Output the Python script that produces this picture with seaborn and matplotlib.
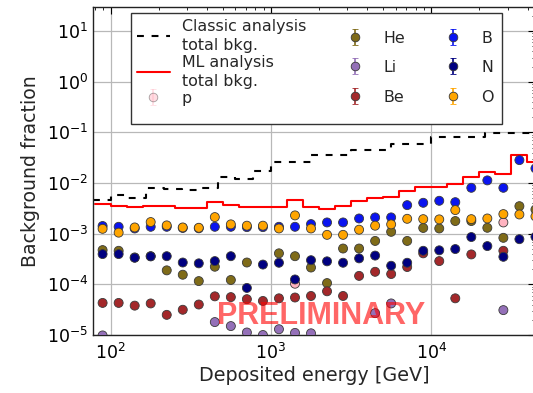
import numpy as np
import pandas as pd
import matplotlib
matplotlib.use("Agg")
import matplotlib.pyplot as plt
import seaborn as sns
from matplotlib.lines import Line2D
from matplotlib.patches import Rectangle

nan = np.nan

# ---- data -------------------------------------------------------------
# bin centres of the deposited-energy bins [GeV]
energy = [89.1, 112.2, 141.3, 177.8, 223.9, 281.8, 354.8, 446.7, 562.3, 707.9,
          891.3, 1122, 1413, 1778, 2239, 2818, 3548, 4467, 5623, 7079,
          8913, 11220, 14125, 17783, 22387, 28184, 35481, 44668]

# ML analysis total background (one value per bin)
ml_total = [3.8e-3, 3.56e-3, 3.3e-3, 3.6e-3, 3.45e-3, 3.2e-3, 3.2e-3, 4.2e-3, 3.7e-3, 3.3e-3,
            3.3e-3, 3.4e-3, 4.55e-3, 3.4e-3, 3.1e-3, 3.6e-3, 4.5e-3, 5.0e-3, 5.2e-3, 6.95e-3,
            8.45e-3, 8.45e-3, 9.8e-3, 1.33e-2, 1.62e-2, 1.5e-2, 3.6e-2, 2.6e-2]

# Classic analysis total background (own binning)
classic_edges = [77.4, 100, 129.2, 166.8, 215.4, 278.3, 359.4, 464.2, 599.5, 774.3,
                 1000, 1778, 3162, 5623, 10000, 21544, 46416]
classic_total = [4.7e-3, 5.8e-3, 5.0e-3, 7.85e-3, 7.5e-3, 7.4e-3, 8.0e-3, 1.33e-2, 1.22e-2,
                 1.75e-2, 2.55e-2, 3.56e-2, 4.6e-2, 5.8e-2, 8.2e-2, 0.098]

# per-species background fractions
frac_p = [nan, nan, nan, nan, nan, nan, nan, nan, nan, nan,
          nan, nan, 1.03e-4, nan, nan, nan, nan, nan, nan, nan,
          nan, nan, nan, nan, nan, 1.67e-3, nan, nan]
frac_He = [4.75e-4, 4.6e-4, 3.4e-4, 3.6e-4, 1.89e-4, 1.55e-4, 1.16e-4, 2.23e-4, 1.22e-4, 2.7e-4,
           nan, 4.1e-4, 3.6e-4, 2.15e-4, 1.06e-4, 5.1e-4, 5.1e-4, 7.2e-4, 1.09e-3, 7.2e-4,
           1.3e-3, 1.27e-3, 1.78e-3, 1.78e-3, 1.31e-3, 8.3e-4, 3.5e-3, 3.0e-3]
frac_Li = [9.8e-6, nan, nan, nan, nan, nan, nan, 1.8e-5, 1.5e-5, 1.12e-5,
           1.0e-5, 1.3e-5, 1.1e-5, 1.08e-5, nan, nan, nan, 2.7e-5, 4.2e-5, nan,
           nan, nan, nan, nan, nan, 3.1e-5, nan, nan]
frac_Be = [4.3e-5, 4.3e-5, 3.8e-5, 4.2e-5, 2.5e-5, 3.15e-5, 4.0e-5, 5.8e-5, 5.6e-5, 5.1e-5,
           4.7e-5, 5.3e-5, 5.5e-5, 5.9e-5, 7.3e-5, 5.9e-5, 1.47e-4, 1.77e-4, 1.6e-4, 2.2e-4,
           4.1e-4, 2.88e-4, 5.3e-5, 3.9e-4, nan, 4.6e-4, nan, nan]
frac_B = [1.42e-3, 1.37e-3, 1.27e-3, 1.37e-3, 1.37e-3, 1.3e-3, 1.28e-3, 1.37e-3, 1.37e-3, 1.35e-3,
          1.35e-3, 1.37e-3, 1.37e-3, 1.55e-3, 1.67e-3, 1.67e-3, 2.0e-3, 2.1e-3, 2.1e-3, 3.67e-3,
          4.08e-3, 4.47e-3, 4.2e-3, 8.07e-3, 1.13e-2, 8.07e-3, 2.84e-2, 1.95e-2]
frac_N = [3.96e-4, 3.96e-4, 3.35e-4, 3.57e-4, 3.6e-4, 2.7e-4, 2.6e-4, 2.88e-4, 3.6e-4, 8.5e-5,
          2.46e-4, 2.67e-4, 1.25e-4, 3.0e-4, 2.85e-4, 2.67e-4, 3.26e-4, 3.7e-4, 2.33e-4, 2.67e-4,
          4.6e-4, 4.7e-4, 4.98e-4, 8.6e-4, 5.7e-4, 3.5e-4, 7.8e-4, 8.7e-4]
frac_O = [1.25e-3, 1.05e-3, 1.33e-3, 1.7e-3, 1.46e-3, 1.33e-3, 1.31e-3, 2.13e-3, 1.53e-3, 1.44e-3,
          1.44e-3, 1.27e-3, 2.3e-3, 1.27e-3, 9.5e-4, 9.5e-4, 1.2e-3, 1.44e-3, 1.53e-3, 1.97e-3,
          1.94e-3, 1.92e-3, 2.93e-3, 1.94e-3, 2.0e-3, 2.44e-3, 2.4e-3, 2.2e-3]

species = ["p", "He", "Li", "Be", "B", "N", "O"]
colors = {"p": "#ffb3c0", "He": "#7f6b18", "Li": "#9470b8", "Be": "#a3282a",
          "B": "#0a14f0", "N": "#000080", "O": "#ffa500"}
values = {"p": frac_p, "He": frac_He, "Li": frac_Li, "Be": frac_Be,
          "B": frac_B, "N": frac_N, "O": frac_O}

# ---- style ------------------------------------------------------------
sns.set_style("white")
plt.rcParams["font.family"] = ["DejaVu Sans"]
plt.rcParams["mathtext.fontset"] = "dejavusans"

AX_L, AX_B, AX_W, AX_H = 93, 58, 442, 328   # pixels
fig = plt.figure(figsize=(5.33, 3.93), dpi=100)
ax = fig.add_axes([AX_L / 533, AX_B / 393, AX_W / 533, AX_H / 393])
ax.set_xscale("log")
ax.set_yscale("log")


def fx(px):  # pixel column -> axes fraction
    return (px - AX_L) / AX_W


def fy(py):  # pixel row (from top) -> axes fraction
    return (393 - AX_B - py) / AX_H


# ---- step lines -------------------------------------------------------
c = np.asarray(energy, float)
mid = np.sqrt(c[:-1] * c[1:])
ml_edges = np.concatenate([[c[0] ** 2 / mid[0]], mid, [c[-1] ** 2 / mid[-1]]])
ml_df = pd.DataFrame({"E": ml_edges, "v": list(ml_total) + [ml_total[-1]]})
cl_df = pd.DataFrame({"E": classic_edges, "v": list(classic_total) + [classic_total[-1]]})

sns.lineplot(data=cl_df, x="E", y="v", ax=ax, estimator=None, sort=False,
             drawstyle="steps-post", color="black", lw=1.5, zorder=2)
ax.lines[-1].set_dashes((3.3, 3.7))
sns.lineplot(data=ml_df, x="E", y="v", ax=ax, estimator=None, sort=False,
             drawstyle="steps-post", color="red", lw=1.5, zorder=2)

# ---- points -----------------------------------------------------------
rows = []
for sp in species:
    for e, v in zip(energy, values[sp]):
        if not np.isnan(v):
            rows.append((e, v, sp))
pts = pd.DataFrame(rows, columns=["E", "frac", "species"])
sns.scatterplot(data=pts, x="E", y="frac", hue="species", palette=colors,
                hue_order=species, s=42, edgecolor="#3a3a3a", linewidth=0.6,
                legend=False, ax=ax, zorder=3)

# ---- axes -------------------------------------------------------------
ax.set_xlim(10 ** 1.89, 10 ** (1.89 + AX_W / 160.3))
ax.set_ylim(1e-5, 30)
ax.grid(True, which="major", color="#b8b8b8", lw=0.9)
ax.tick_params(which="both", direction="in", top=True, right=True,
               labelsize=12.5, colors="black")
ax.tick_params(which="major", length=5, width=0.8)
ax.tick_params(which="minor", length=2.5, width=0.6)
ax.tick_params(axis="x", pad=6)
for s in ax.spines.values():
    s.set_color("#222222")
    s.set_linewidth(1.0)
ax.set_xlabel("Deposited energy [GeV]", fontsize=13.8, labelpad=2)
ax.set_ylabel("Background fraction", fontsize=13.6, labelpad=5)

ax.text(0.515, fy(323.5), "PRELIMINARY", transform=ax.transAxes, ha="center",
        va="baseline", fontsize=22, fontweight="bold", family="Liberation Sans",
        color="red", alpha=0.6, zorder=4)

# ---- legend (three columns, common frame) -----------------------------
frame = Rectangle((fx(130.7), fy(124)), fx(501.7) - fx(130.7), fy(13.3) - fy(124),
                  transform=ax.transAxes, facecolor="white", edgecolor="#333333",
                  lw=1.0, zorder=6)
ax.add_patch(frame)


def eb_handle(sp, alpha=1.0):
    return ax.errorbar([nan], [nan], yerr=[nan], fmt="o", color=colors[sp],
                       mec="#3a3a3a", mew=0.6, ms=6.2, capsize=2.5,
                       elinewidth=1.2, alpha=alpha)


common = dict(loc="upper left", fontsize=11.4, frameon=False, borderpad=0,
              borderaxespad=0, handlelength=2.1, handleheight=1.0,
              handletextpad=0.75)

h1 = [Line2D([], [], color="black", lw=1.5, dashes=(3.3, 3.7)),
      Line2D([], [], color="red", lw=1.5),
      eb_handle("p", alpha=0.45)]
l1 = ["Classic analysis\ntotal bkg.", "ML analysis\ntotal bkg.", "p"]
leg1 = ax.legend(h1, l1, bbox_to_anchor=(fx(136.7), fy(19.5)),
                 labelspacing=0.12, **common)
for t in leg1.get_texts():
    t.set_linespacing(1.3)
leg1.set_zorder(7)
ax.add_artist(leg1)

leg2 = ax.legend([eb_handle(s) for s in ["He", "Li", "Be"]], ["He", "Li", "Be"],
                 bbox_to_anchor=(fx(338.5), fy(30.5)), labelspacing=0.88,
                 **common)
leg2.set_zorder(7)
ax.add_artist(leg2)

leg3 = ax.legend([eb_handle(s) for s in ["B", "N", "O"]], ["B", "N", "O"],
                 bbox_to_anchor=(fx(436.5), fy(30.5)), labelspacing=0.88,
                 **common)
leg3.set_zorder(7)

fig.savefig("out.png", dpi=100)
